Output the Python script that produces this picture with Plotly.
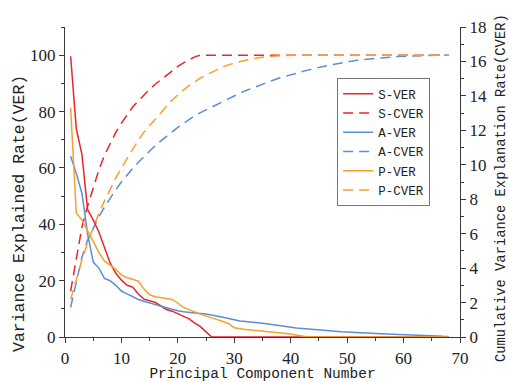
import plotly.graph_objects as go

# ---------------- data ----------------
components = list(range(1, 69))

# Variance explained rate (%), plotted against the right-hand axis (0-18)
s_ver = [16.3, 12.1, 10.6, 7.4, 6.8, 6.1, 5.2, 4.3, 3.7, 3.3,
         3.0, 2.9, 2.5, 2.2, 2.1, 2.0, 1.8, 1.6, 1.5, 1.35,
         1.2, 1.05, 0.8, 0.6, 0.3, 0.0] + [0.0] * 42
a_ver = [10.5, 9.5, 8.35, 6.0, 4.35, 4.0, 3.4, 3.27, 3.0, 2.67,
         2.5, 2.35, 2.18, 2.08, 2.0, 1.88, 1.78, 1.69, 1.59, 1.52,
         1.47, 1.42, 1.39, 1.36, 1.33, 1.28, 1.21, 1.15, 1.08, 1.0,
         0.93, 0.9, 0.875, 0.85, 0.8, 0.75, 0.7, 0.65, 0.59, 0.54,
         0.52, 0.49, 0.47, 0.44, 0.41, 0.38, 0.35, 0.33, 0.30, 0.28,
         0.25, 0.245, 0.24, 0.22, 0.2, 0.19, 0.18, 0.17, 0.16, 0.155,
         0.14, 0.13, 0.115, 0.1, 0.08, 0.065, 0.04, 0.025]
p_ver = [13.3, 7.2, 6.8, 6.2, 5.55, 4.9, 4.4, 4.17, 3.93, 3.6,
         3.44, 3.35, 3.24, 2.78, 2.45, 2.34, 2.3, 2.26, 2.18, 1.96,
         1.72, 1.59, 1.44, 1.33, 1.21, 1.13, 1.01, 0.9, 0.77, 0.54,
         0.47, 0.44, 0.41, 0.38, 0.36, 0.31, 0.28, 0.26, 0.23, 0.18,
         0.11, 0.05] + [0.0] * 26

# Cumulative variance explained rate (%), plotted against the left-hand axis (0-110)
s_cver = [16.3, 28.4, 39.0, 46.4, 53.2, 59.3, 64.5, 68.8, 72.6, 75.9,
          78.9, 81.6, 83.8, 85.9, 87.9, 89.7, 91.3, 92.9, 94.5, 96.0,
          97.3, 98.5, 99.4, 100.0] + [100.0] * 44
a_cver = [10.5, 20.0, 28.3, 34.3, 38.7, 42.7, 46.1, 49.3, 52.3, 55.0,
          57.5, 59.8, 62.0, 64.0, 66.0, 67.9, 69.6, 71.3, 72.9, 74.4,
          75.8, 77.2, 78.5, 79.6, 80.6, 81.6, 82.7, 83.7, 84.7, 85.6,
          86.5, 87.4, 88.2, 89.0, 89.8, 90.5, 91.2, 91.9, 92.5, 93.1,
          93.7, 94.2, 94.7, 95.2, 95.7, 96.1, 96.5, 96.9, 97.3, 97.7,
          98.0, 98.3, 98.5, 98.7, 98.9, 99.1, 99.2, 99.4, 99.5, 99.6,
          99.7, 99.8, 99.85, 99.9, 99.95, 100.0, 100.0, 100.0]
p_cver = [13.3, 20.5, 27.3, 33.5, 39.0, 43.9, 48.3, 52.5, 56.4, 60.0,
          63.4, 66.7, 69.9, 72.7, 75.1, 77.4, 79.7, 81.9, 84.1, 86.0,
          87.7, 89.2, 90.6, 91.9, 93.0, 94.0, 94.9, 95.8, 96.6, 97.2,
          97.7, 98.2, 98.6, 99.0, 99.3, 99.5, 99.7, 99.8, 99.9, 100.0] + [100.0] * 28

x_ticks = [0, 10, 20, 30, 40, 50, 60, 70]
left_ticks = [0, 20, 40, 60, 80, 100]
right_ticks = [0, 2, 4, 6, 8, 10, 12, 14, 16, 18]

x_title = "Principal Component Number"
left_title = "Variance Explained Rate(VER)"
right_title = "Cumulative Variance Explanation Rate(CVER)"

RED = "#E8262A"
BLUE = "#5A8ED6"
ORANGE = "#F8A02A"
AXIS = "#3a3a3a"

series = [
    ("S-VER", s_ver, RED, "solid", "y2"),
    ("S-CVER", s_cver, RED, "10px,6px", "y"),
    ("A-VER", a_ver, BLUE, "solid", "y2"),
    ("A-CVER", a_cver, BLUE, "10px,6px", "y"),
    ("P-VER", p_ver, ORANGE, "solid", "y2"),
    ("P-CVER", p_cver, ORANGE, "10px,6px", "y"),
]

fig = go.Figure()
for name, vals, color, dash, yax in series:
    fig.add_trace(go.Scatter(
        x=components, y=vals, name=name, mode="lines", yaxis=yax,
        line=dict(color=color, width=1.5, dash=dash),
    ))

MONO = "Liberation Mono, monospace"
tick_font = dict(family="Liberation Serif, Times New Roman, serif", size=17, color="#222")
title_font = dict(family=MONO, size=14.5, color="#222")

axis_common = dict(
    showline=True, linecolor=AXIS, linewidth=1.3,
    ticks="outside", ticklen=5, tickwidth=1.2, tickcolor=AXIS,
    showgrid=False, zeroline=False, tickfont=tick_font, automargin=False,
)

W, H = 509, 382
ML, MR, MT, MB = 65, 49, 27, 45
plot_h = H - MT - MB

def paper_y(py):
    return (H - MB - py) / plot_h

fig.update_layout(
    width=W, height=H,
    margin=dict(l=ML, r=MR, t=MT, b=MB),
    paper_bgcolor="white", plot_bgcolor="white",
    xaxis=dict(
        range=[0, 70], tickvals=x_ticks,
        title=dict(text=x_title, font=title_font),
        minor=dict(dtick=5, tick0=0, ticks="outside", ticklen=3, tickcolor=AXIS),
        **axis_common,
    ),
    yaxis=dict(
        range=[0, 110], tickvals=left_ticks,
        minor=dict(dtick=10, tick0=0, ticks="outside", ticklen=3, tickcolor=AXIS),
        **axis_common,
    ),
    yaxis2=dict(
        range=[0, 18], tickvals=right_ticks, overlaying="y", side="right", anchor="x",
        minor=dict(dtick=1, tick0=0, ticks="outside", ticklen=3, tickcolor=AXIS),
        **axis_common,
    ),
    legend=dict(
        x=0.689, y=0.835, xanchor="left", yanchor="top",
        bgcolor="white", bordercolor="#777", borderwidth=1,
        font=dict(family=MONO, size=12.5, color="#222"),
        tracegroupgap=0, itemwidth=30,
    ),
    annotations=[
        dict(text=left_title, xref="paper", yref="paper",
             x=(19 - ML) / (W - ML - MR), y=paper_y(214),
             xanchor="center", yanchor="middle", textangle=-90, showarrow=False,
             font=dict(family=MONO, size=16.5, color="#222")),
        dict(text=right_title, xref="paper", yref="paper",
             x=(502 - ML) / (W - ML - MR), y=paper_y(188),
             xanchor="center", yanchor="middle", textangle=-90, showarrow=False,
             font=dict(family=MONO, size=13.8, color="#222")),
    ],
    showlegend=True,
)

fig.write_html(
    "out.html",
    config={"displayModeBar": False},
    post_script="document.body.style.margin='0';document.body.style.overflow='hidden';",
)
